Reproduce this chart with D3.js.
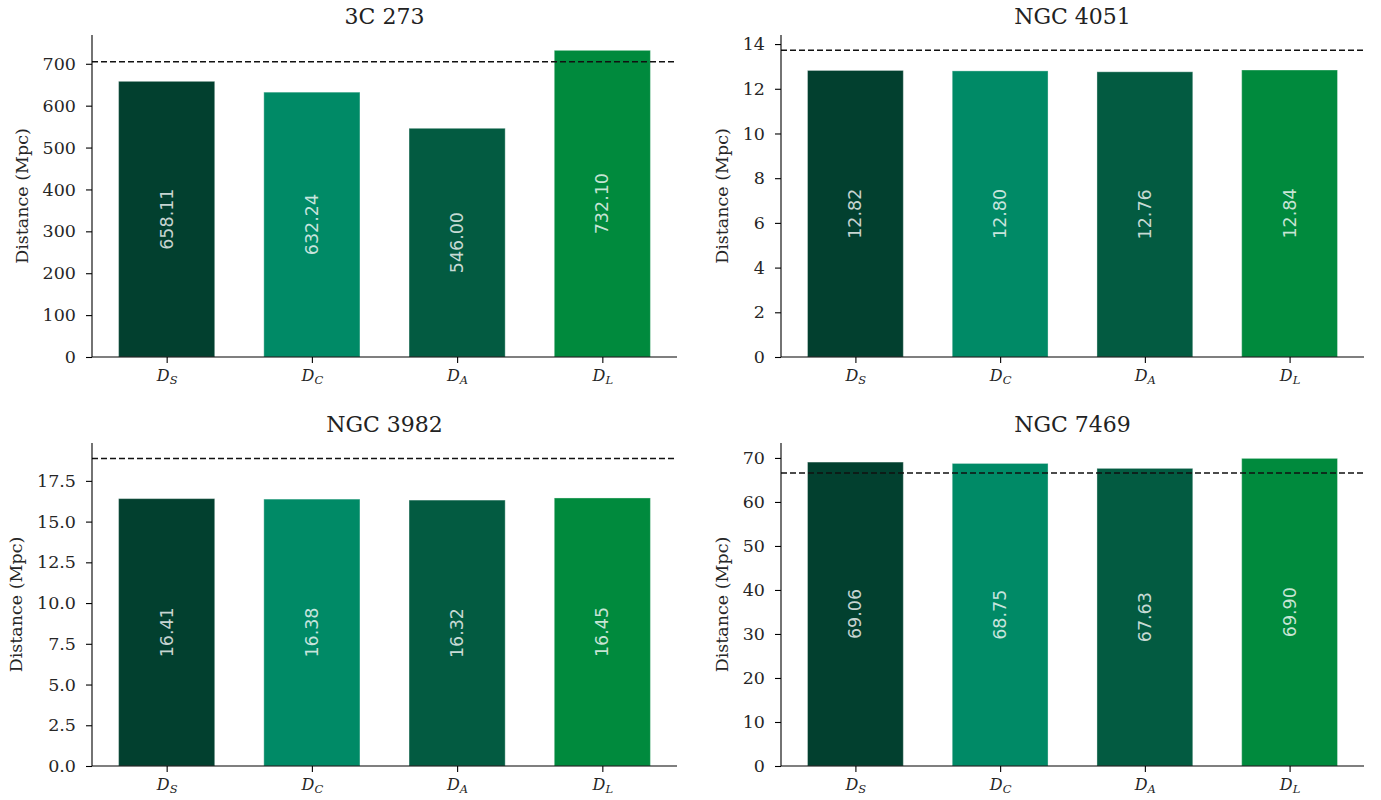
<!DOCTYPE html>
<html>
<head>
<meta charset="utf-8">
<script src="https://cdn.jsdelivr.net/npm/d3@7"></script>
<style>
  body { margin: 0; background: #fff; }
  svg { display: block; }
</style>
</head>
<body>
<div id="graph"></div>
<script>
// distance types on the x axis (D with subscript)
var subs = ["S", "C", "A", "L"];
var barColors = ["#02402f", "#008a66", "#035b41", "#008a3d"];

// objects, one panel each
var titles = ["3C 273", "NGC 4051", "NGC 3982", "NGC 7469"];
var dist3C273 = [658.11, 632.24, 546.00, 732.10];
var distNGC4051 = [12.82, 12.80, 12.76, 12.84];
var distNGC3982 = [16.41, 16.38, 16.32, 16.45];
var distNGC7469 = [69.06, 68.75, 67.63, 69.90];
// dashed reference distance for each object
var refDist = [705, 13.72, 18.88, 66.6];

// y tick values
var ticks3C273 = [0, 100, 200, 300, 400, 500, 600, 700];
var ticksNGC4051 = [0, 2, 4, 6, 8, 10, 12, 14];
var ticksNGC3982 = [0, 2.5, 5, 7.5, 10, 12.5, 15, 17.5];
var ticksNGC7469 = [0, 10, 20, 30, 40, 50, 60, 70];

var allDist = [dist3C273, distNGC4051, distNGC3982, distNGC7469];
var allTicks = [ticks3C273, ticksNGC4051, ticksNGC3982, ticksNGC7469];
var tickFormats = [d3.format("d"), d3.format("d"), d3.format(".1f"), d3.format("d")];

var W = 1381, H = 800;
var svg = d3.select("#graph").append("svg").attr("width", W).attr("height", H);

// axes boxes (left, right, top, bottom)
var boxes = [
  {l: 92, r: 677, t: 35, b: 357},
  {l: 781, r: 1364, t: 35, b: 357},
  {l: 92, r: 677, t: 443, b: 766},
  {l: 781, r: 1364, t: 443, b: 766}
];

var barW = 0.662;
var xPad = 0.05 * (subs.length - 1 + barW) + barW / 2;

var serif = "DejaVu Serif, serif";
var sans = "DejaVu Sans, sans-serif";

titles.forEach(function(title, p) {
  var box = boxes[p];
  var vals = allDist[p];
  var g = svg.append("g");

  var x = d3.scaleLinear()
    .domain([-xPad, subs.length - 1 + xPad])
    .range([box.l, box.r]);
  var yMax = 1.05 * d3.max(vals.concat([refDist[p]]));
  var y = d3.scaleLinear()
    .domain([0, yMax])
    .range([box.b, box.t]);

  // bars
  g.selectAll("rect.bar").data(vals).enter().append("rect")
    .attr("class", "bar")
    .attr("x", function(d, i) { return x(i - barW / 2); })
    .attr("width", function() { return x(barW) - x(0); })
    .attr("y", function(d) { return y(d); })
    .attr("height", function(d) { return y(0) - y(d); })
    .style("fill", function(d, i) { return barColors[i]; })
    .style("stroke", "rgba(255,255,255,0.35)")
    .style("stroke-width", 1);

  // values inside bars
  g.selectAll("text.val").data(vals).enter().append("text")
    .attr("class", "val")
    .attr("transform", function(d, i) {
      return "translate(" + x(i) + "," + y(d / 2) + ") rotate(-90)";
    })
    .attr("text-anchor", "middle")
    .attr("dominant-baseline", "central")
    .style("font-family", sans)
    .style("font-size", "17.5px")
    .style("fill", "rgba(255,255,255,0.78)")
    .text(function(d) { return d3.format(".2f")(d); });

  // reference line
  g.append("line")
    .attr("x1", box.l).attr("x2", box.r)
    .attr("y1", y(refDist[p])).attr("y2", y(refDist[p]))
    .style("stroke", "#111")
    .style("stroke-width", 1.5)
    .style("stroke-dasharray", "6,3");

  // y axis
  var yAxis = d3.axisLeft(y)
    .tickValues(allTicks[p])
    .tickFormat(tickFormats[p])
    .tickSizeOuter(0)
    .tickSizeInner(6)
    .tickPadding(10);
  var gY = g.append("g")
    .attr("transform", "translate(" + box.l + ",0)")
    .call(yAxis);
  gY.select(".domain").attr("d", "M0," + box.b + "V" + box.t);

  // x axis
  var xAxis = d3.axisBottom(x)
    .tickValues(d3.range(subs.length))
    .tickFormat("")
    .tickSizeOuter(0)
    .tickSizeInner(6)
    .tickPadding(11);
  var gX = g.append("g")
    .attr("transform", "translate(0," + box.b + ")")
    .call(xAxis);
  gX.select(".domain").attr("d", "M" + box.l + ",0H" + box.r);
  gX.selectAll(".tick text").each(function(d) {
    var t = d3.select(this);
    t.append("tspan").text("D")
      .style("font-size", "16px");
    t.append("tspan").text(subs[d])
      .attr("dy", "0.25em")
      .style("font-size", "11.5px");
  });

  [gX, gY].forEach(function(a) {
    a.selectAll(".domain").style("stroke", "#000").style("stroke-width", 1.1);
    a.selectAll(".tick line").style("stroke", "#000").style("stroke-width", 1.1);
    a.selectAll(".tick text").style("fill", "#262626").style("font-family", serif);
  });
  gY.selectAll(".tick text").style("font-size", "17.5px");
  gX.selectAll(".tick text").style("font-style", "italic");

  // y label, placed left of the tick labels
  var bb = gY.node().getBBox();
  g.append("text")
    .attr("transform", "translate(" + (box.l + bb.x - 15) + "," + ((box.t + box.b) / 2) + ") rotate(-90)")
    .attr("text-anchor", "middle")
    .style("font-family", serif)
    .style("font-size", "17.5px")
    .style("fill", "#262626")
    .text("Distance (Mpc)");

  // title
  g.append("text")
    .attr("x", (box.l + box.r) / 2)
    .attr("y", box.t - 11)
    .attr("text-anchor", "middle")
    .style("font-family", serif)
    .style("font-size", "22px")
    .style("fill", "#222")
    .text(title);
});
</script>
</body>
</html>
